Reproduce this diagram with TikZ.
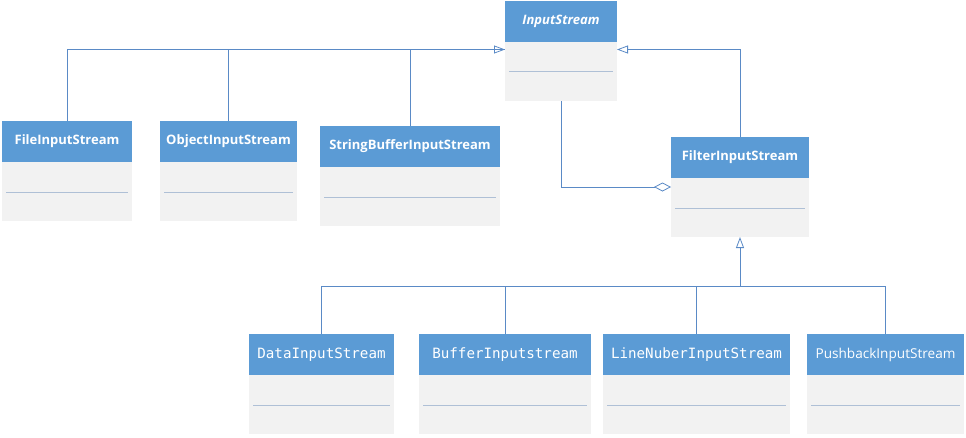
\documentclass[tikz,border=0pt]{standalone}
\usepackage{fontspec}
\usepackage{tikz}
\usetikzlibrary{arrows.meta,positioning,calc}
\newfontfamily\uifont{Open Sans}
\newfontfamily\codefont{DejaVu Sans Mono}
\definecolor{HeadBlue}{HTML}{5B9BD5}
\definecolor{BodyGrey}{HTML}{F2F2F2}
\definecolor{LinkBlue}{HTML}{5A8AC6}
\definecolor{SepGrey}{HTML}{AFC0D6}

\tikzset{
  hdr/.style={fill=HeadBlue,text=white,minimum height=41pt,inner sep=0pt,outer sep=0pt},
  uihdr/.style={hdr,font=\uifont\bfseries\fontsize{13}{15}\selectfont},
  plainhdr/.style={hdr,font=\uifont\fontsize{13.6}{15}\selectfont},
  codehdr/.style={hdr,font=\codefont\fontsize{14.2}{16}\selectfont},
  bodybox/.style={fill=BodyGrey,minimum height=59pt,inner sep=0pt,outer sep=0pt},
  sep/.style={SepGrey,line width=0.6pt},
  link/.style={LinkBlue,line width=0.8pt},
  gen/.style={link,-{Triangle[open,length=11pt,width=8pt,fill=white]}},
  agg/.style={link,{Diamond[open,length=17pt,width=9pt,fill=white]}-}
}

\begin{document}
\begin{tikzpicture}[x=1pt,y=-1pt]
  \useasboundingbox (0,0) rectangle (966,437);
  % top level
  \node[uihdr,minimum width=112pt,font=\uifont\bfseries\itshape\fontsize{13}{15}\selectfont] (isH) at (561,21) {InputStream};
  \node[bodybox,minimum width=112pt,below=0pt of isH] (is) {};
  \draw[sep] ([xshift=4pt,yshift=-30pt]is.north west) -- ([xshift=-4pt,yshift=-30pt]is.north east);
  % direct subclasses
  \node[uihdr,minimum width=130pt] (fileH) at (67,141.5) {FileInputStream};
  \node[bodybox,minimum width=130pt,below=0pt of fileH] (file) {};
  \draw[sep] ([xshift=4pt,yshift=-30pt]file.north west) -- ([xshift=-4pt,yshift=-30pt]file.north east);
  \node[uihdr,minimum width=137pt] (objH) at (228.5,141.5) {ObjectInputStream};
  \node[bodybox,minimum width=137pt,below=0pt of objH] (obj) {};
  \draw[sep] ([xshift=4pt,yshift=-30pt]obj.north west) -- ([xshift=-4pt,yshift=-30pt]obj.north east);
  \node[uihdr,minimum width=180pt] (sbH) at (410,146.5) {StringBufferInputStream};
  \node[bodybox,minimum width=180pt,below=0pt of sbH] (sb) {};
  \draw[sep] ([xshift=4pt,yshift=-30pt]sb.north west) -- ([xshift=-4pt,yshift=-30pt]sb.north east);
  \node[uihdr,minimum width=138pt] (filterH) at (740,157.5) {FilterInputStream};
  \node[bodybox,minimum width=138pt,below=0pt of filterH] (filter) {};
  \draw[sep] ([xshift=4pt,yshift=-30pt]filter.north west) -- ([xshift=-4pt,yshift=-30pt]filter.north east);
  % decorators
  \node[codehdr,minimum width=145pt] (dataH) at (321.5,354.5) {DataInputStream};
  \node[bodybox,minimum width=145pt,below=0pt of dataH] (data) {};
  \draw[sep] ([xshift=4pt,yshift=-30pt]data.north west) -- ([xshift=-4pt,yshift=-30pt]data.north east);
  \node[codehdr,minimum width=172pt] (bufH) at (505,354.5) {BufferInputstream};
  \node[bodybox,minimum width=172pt,below=0pt of bufH] (buf) {};
  \draw[sep] ([xshift=4pt,yshift=-30pt]buf.north west) -- ([xshift=-4pt,yshift=-30pt]buf.north east);
  \node[codehdr,minimum width=187pt] (lineH) at (696.5,354.5) {LineNuberInputStream};
  \node[bodybox,minimum width=187pt,below=0pt of lineH] (line) {};
  \draw[sep] ([xshift=4pt,yshift=-30pt]line.north west) -- ([xshift=-4pt,yshift=-30pt]line.north east);
  \node[plainhdr,minimum width=157pt] (pushH) at (885.5,354.5) {PushbackInputStream};
  \node[bodybox,minimum width=157pt,below=0pt of pushH] (push) {};
  \draw[sep] ([xshift=4pt,yshift=-30pt]push.north west) -- ([xshift=-4pt,yshift=-30pt]push.north east);
  % connectors
  \coordinate (isL) at ([yshift=-8pt]is.north west);
  \coordinate (isR) at ([yshift=-8pt]is.north east);
  \draw[gen] (fileH.north) |- (isL);
  \draw[link] (objH.north) |- (isL);
  \draw[link] (sbH.north) |- (isL);
  \draw[gen] (filterH.north) |- (isR);
  \coordinate (filterL) at ([yshift=-9pt]filter.north west);
  \draw[agg] (filterL) -| (is.south);
  \coordinate (bus) at ($(filter.south)+(0,49)$);
  \draw[gen] (dataH.north) |- (bus) -- (filter.south);
  \draw[link] (bufH.north) |- (bus);
  \draw[link] (lineH.north) |- (bus);
  \draw[link] (pushH.north) |- (bus);
\end{tikzpicture}
\end{document}
